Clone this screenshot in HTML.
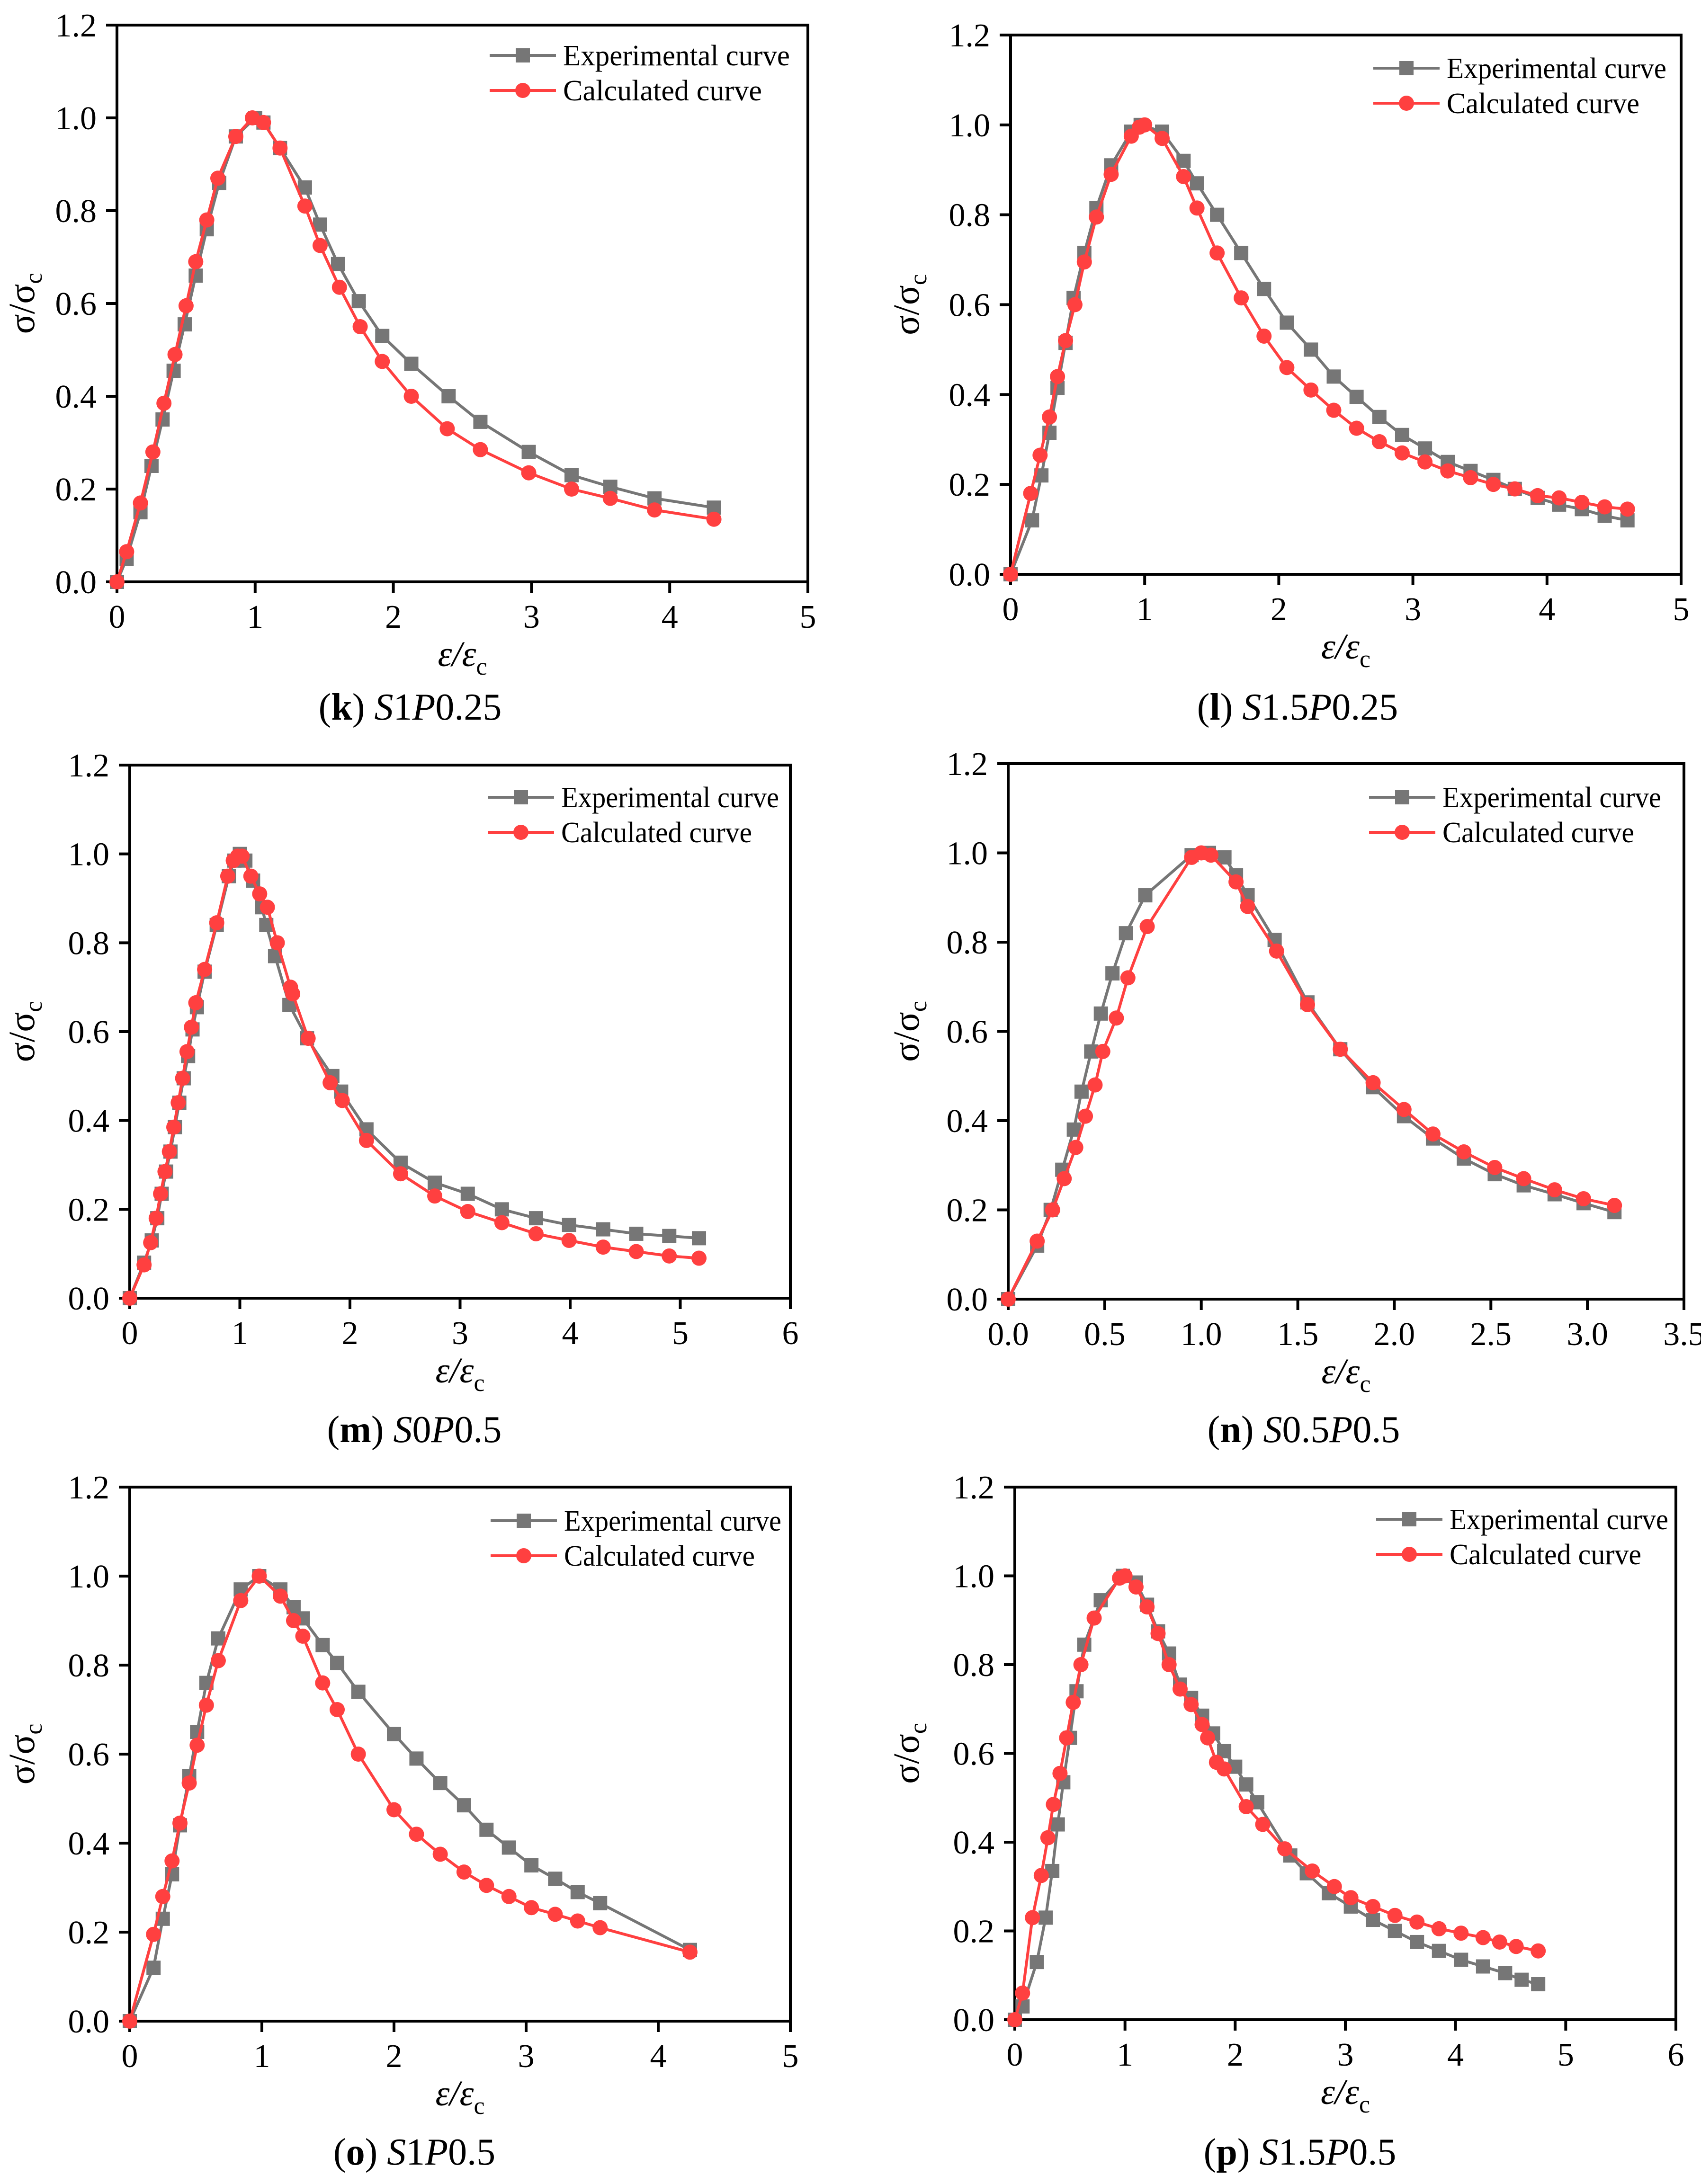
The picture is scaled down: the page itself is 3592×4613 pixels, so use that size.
<!DOCTYPE html>
<html><head><meta charset="utf-8"><style>
html,body{margin:0;padding:0;background:#fff;}
svg{display:block;}
text{font-family:"Liberation Serif",serif;}
</style></head><body>
<svg id="fig" width="3592" height="4613" viewBox="0 0 3592 4613" xmlns="http://www.w3.org/2000/svg"></svg>
<script>
// ---- data ----
const kExpX=[0,0.07,0.17,0.25,0.33,0.41,0.49,0.57,0.65,0.74,0.86,1,1.06,1.18,1.36,1.47,1.6,1.75,1.92,2.13,2.4,2.63,2.98,3.29,3.57,3.89,4.32];
const kExpY=[0,0.05,0.15,0.25,0.35,0.455,0.555,0.66,0.76,0.86,0.96,1.0,0.99,0.935,0.85,0.77,0.685,0.605,0.53,0.47,0.40,0.345,0.28,0.23,0.205,0.18,0.16];
const kCalX=[0,0.07,0.17,0.26,0.34,0.42,0.5,0.57,0.65,0.73,0.86,0.98,1.06,1.18,1.36,1.47,1.61,1.76,1.92,2.13,2.39,2.63,2.98,3.29,3.57,3.89,4.32];
const kCalY=[0,0.065,0.17,0.28,0.385,0.49,0.595,0.69,0.78,0.87,0.96,1.0,0.99,0.935,0.81,0.725,0.635,0.55,0.475,0.40,0.33,0.285,0.235,0.20,0.18,0.155,0.135];

const lExpX=[0,0.16,0.23,0.29,0.35,0.41,0.47,0.55,0.64,0.75,0.9,0.97,1.13,1.29,1.39,1.54,1.72,1.89,2.06,2.24,2.41,2.58,2.75,2.92,3.09,3.26,3.43,3.6,3.76,3.93,4.09,4.26,4.43,4.6];
const lExpY=[0,0.12,0.22,0.315,0.415,0.515,0.615,0.715,0.815,0.91,0.985,1.0,0.985,0.92,0.87,0.80,0.715,0.635,0.56,0.50,0.44,0.395,0.35,0.31,0.28,0.25,0.23,0.21,0.19,0.17,0.155,0.145,0.13,0.12];
const lCalX=[0,0.15,0.22,0.29,0.35,0.41,0.48,0.55,0.64,0.75,0.9,0.96,1.0,1.13,1.29,1.39,1.54,1.72,1.89,2.06,2.24,2.41,2.58,2.75,2.92,3.09,3.26,3.43,3.6,3.76,3.93,4.09,4.26,4.43,4.6];
const lCalY=[0,0.18,0.265,0.35,0.44,0.52,0.60,0.695,0.795,0.89,0.975,0.995,1.0,0.97,0.885,0.815,0.715,0.615,0.53,0.46,0.41,0.365,0.325,0.295,0.27,0.25,0.23,0.215,0.20,0.19,0.175,0.17,0.16,0.15,0.145];

const mExpX=[0,0.13,0.2,0.25,0.29,0.33,0.37,0.41,0.45,0.49,0.53,0.57,0.61,0.68,0.79,0.9,0.95,1.0,1.05,1.12,1.2,1.24,1.32,1.45,1.61,1.84,1.92,2.15,2.46,2.77,3.07,3.38,3.69,3.99,4.3,4.6,4.9,5.17];
const mExpY=[0,0.08,0.13,0.18,0.235,0.285,0.33,0.385,0.44,0.495,0.545,0.605,0.655,0.735,0.84,0.95,0.985,1.0,0.985,0.94,0.88,0.84,0.77,0.66,0.585,0.50,0.465,0.38,0.305,0.26,0.235,0.20,0.18,0.165,0.155,0.145,0.14,0.135];
const mCalX=[0,0.13,0.19,0.24,0.28,0.32,0.36,0.4,0.44,0.48,0.52,0.56,0.6,0.68,0.79,0.89,0.94,0.98,1.02,1.1,1.18,1.25,1.34,1.46,1.48,1.62,1.82,1.93,2.15,2.46,2.77,3.07,3.38,3.69,3.99,4.3,4.6,4.9,5.17];
const mCalY=[0,0.075,0.125,0.18,0.235,0.285,0.33,0.385,0.44,0.495,0.555,0.61,0.665,0.74,0.845,0.95,0.985,0.995,0.995,0.95,0.91,0.88,0.80,0.70,0.685,0.585,0.485,0.445,0.355,0.28,0.23,0.195,0.17,0.145,0.13,0.115,0.105,0.095,0.09];

const nExpX=[0,0.15,0.22,0.28,0.34,0.38,0.43,0.48,0.54,0.61,0.71,0.95,1.04,1.12,1.18,1.24,1.38,1.55,1.72,1.89,2.05,2.2,2.36,2.52,2.67,2.83,2.98,3.14];
const nExpY=[0,0.12,0.2,0.29,0.38,0.465,0.555,0.64,0.73,0.82,0.905,0.995,1.0,0.99,0.95,0.905,0.805,0.665,0.56,0.475,0.41,0.36,0.315,0.28,0.255,0.235,0.215,0.195];
const nCalX=[0,0.15,0.23,0.29,0.35,0.4,0.45,0.49,0.56,0.62,0.72,0.95,1.0,1.05,1.18,1.24,1.39,1.55,1.72,1.89,2.05,2.2,2.36,2.52,2.67,2.83,2.98,3.14];
const nCalY=[0,0.13,0.20,0.27,0.34,0.41,0.48,0.555,0.63,0.72,0.835,0.99,1.0,0.995,0.935,0.88,0.78,0.66,0.56,0.485,0.425,0.37,0.33,0.295,0.27,0.245,0.225,0.21];

const oExpX=[0,0.18,0.25,0.32,0.38,0.45,0.51,0.58,0.67,0.84,0.98,1.14,1.24,1.31,1.46,1.57,1.73,2.0,2.17,2.35,2.53,2.7,2.87,3.04,3.22,3.39,3.56,4.24];
const oExpY=[0,0.12,0.23,0.33,0.44,0.55,0.65,0.76,0.86,0.97,1.0,0.97,0.93,0.905,0.845,0.805,0.74,0.645,0.59,0.535,0.485,0.43,0.39,0.35,0.32,0.29,0.265,0.16];
const oCalX=[0,0.18,0.25,0.32,0.38,0.45,0.51,0.58,0.67,0.84,0.98,1.14,1.24,1.31,1.46,1.57,1.73,2.0,2.17,2.35,2.53,2.7,2.87,3.04,3.22,3.39,3.56,4.24];
const oCalY=[0,0.195,0.28,0.36,0.445,0.535,0.62,0.71,0.81,0.945,1.0,0.955,0.90,0.865,0.76,0.70,0.60,0.475,0.42,0.375,0.335,0.305,0.28,0.255,0.24,0.225,0.21,0.155];

const pExpX=[0,0.07,0.2,0.28,0.34,0.39,0.44,0.5,0.56,0.63,0.78,0.98,1.1,1.2,1.3,1.4,1.5,1.6,1.7,1.8,1.9,2.0,2.1,2.2,2.5,2.65,2.85,3.05,3.25,3.45,3.65,3.85,4.05,4.25,4.45,4.6,4.75];
const pExpY=[0,0.03,0.13,0.23,0.335,0.44,0.535,0.635,0.74,0.845,0.945,1.0,0.985,0.935,0.875,0.825,0.755,0.725,0.685,0.645,0.605,0.57,0.53,0.49,0.37,0.33,0.285,0.255,0.225,0.2,0.175,0.155,0.135,0.12,0.105,0.09,0.08];
const pCalX=[0,0.07,0.16,0.24,0.3,0.35,0.41,0.47,0.53,0.6,0.72,0.95,1.0,1.1,1.2,1.3,1.4,1.5,1.6,1.7,1.75,1.83,1.9,2.1,2.25,2.45,2.7,2.9,3.05,3.25,3.45,3.65,3.85,4.05,4.25,4.4,4.55,4.75];
const pCalY=[0,0.06,0.23,0.325,0.41,0.485,0.555,0.635,0.715,0.80,0.905,0.995,1.0,0.975,0.93,0.87,0.80,0.745,0.71,0.665,0.635,0.58,0.565,0.48,0.44,0.385,0.335,0.30,0.275,0.255,0.235,0.22,0.205,0.195,0.185,0.175,0.165,0.155];

const yTicks=[0,0.2,0.4,0.6,0.8,1.0,1.2];
const yTickLabels=["0.0","0.2","0.4","0.6","0.8","1.0","1.2"];
const xTicks5=[0,1,2,3,4,5];
const xTicks6=[0,1,2,3,4,5,6];
const xTicksN=[0,0.5,1,1.5,2,2.5,3,3.5];
const xTickLabels5=["0","1","2","3","4","5"];
const xTickLabels6=["0","1","2","3","4","5","6"];
const xTickLabelsN=["0.0","0.5","1.0","1.5","2.0","2.5","3.0","3.5"];

const NS="http://www.w3.org/2000/svg";
const svg=document.getElementById('fig');
function mk(tag,attrs,parent){const e=document.createElementNS(NS,tag);for(const k in attrs)e.setAttribute(k,attrs[k]);(parent||svg).appendChild(e);return e;}
const GRAY="#767676",RED="#ff4040";

const panels=[
 {id:'k',L:247,R:1706,T:53,B:1229,xmax:5,xt:xTicks5,xl:xTickLabels5,ex:kExpX,ey:kExpY,cx:kCalX,cy:kCalY,legLine:1034,legY:117,lw:479,ytx:72,capX:866,capY:1520,letter:'k',cap:['S','1','P','0.25']},
 {id:'l',L:2134,R:3550,T:74,B:1213,xmax:5,xt:xTicks5,xl:xTickLabels5,ex:lExpX,ey:lExpY,cx:lCalX,cy:lCalY,legLine:2900,legY:144,lw:464,ytx:1940,capX:2740,capY:1520,letter:'l',cap:['S','1.5','P','0.25']},
 {id:'m',L:274,R:1669,T:1616,B:2742,xmax:6,xt:xTicks6,xl:xTickLabels6,ex:mExpX,ey:mExpY,cx:mCalX,cy:mCalY,legLine:1030,legY:1684,lw:460,ytx:72,capX:875,capY:3046,letter:'m',cap:['S','0','P','0.5']},
 {id:'n',L:2129,R:3556,T:1613,B:2744,xmax:3.5,xt:xTicksN,xl:xTickLabelsN,ex:nExpX,ey:nExpY,cx:nCalX,cy:nCalY,legLine:2891,legY:1684,lw:462,ytx:1940,capX:2753,capY:3046,letter:'n',cap:['S','0.5','P','0.5']},
 {id:'o',L:274,R:1669,T:3141,B:4269,xmax:5,xt:xTicks5,xl:xTickLabels5,ex:oExpX,ey:oExpY,cx:oCalX,cy:oCalY,legLine:1036,legY:3212,lw:459,ytx:72,capX:875,capY:4572,letter:'o',cap:['S','1','P','0.5']},
 {id:'p',L:2143,R:3539,T:3141,B:4266,xmax:6,xt:xTicks6,xl:xTickLabels6,ex:pExpX,ey:pExpY,cx:pCalX,cy:pCalY,legLine:2906,legY:3209,lw:462,ytx:1940,capX:2745,capY:4572,letter:'p',cap:['S','1.5','P','0.5']}
];

panels.forEach(p=>{
 const g=mk('g',{});
 
 
 const sx=v=>p.L+(v/p.xmax)*(p.R-p.L);
 const sy=v=>p.B-(v/1.2)*(p.B-p.T);
 p.xt.forEach((t,i)=>{
  const x=sx(t);
  const tk=mk('line',{x1:x,x2:x,y1:p.B,y2:p.B+23,stroke:'#000','stroke-width':6},g);
  
  
  const tl=mk('text',{x:x,y:p.B+97,'font-size':70,'text-anchor':'middle'},g);
  tl.textContent=p.xl[i];
  
  
 });
 yTicks.forEach((t,i)=>{
  const y=sy(t);
  const tk=mk('line',{x1:p.L-23,x2:p.L,y1:y,y2:y,stroke:'#000','stroke-width':6},g);
  
  
  const tl=mk('text',{x:p.L-43,y:y+24,'font-size':70,'text-anchor':'end'},g);
  tl.textContent=yTickLabels[i];
  
  
 });
 const fr=mk('rect',{x:p.L,y:p.T,width:p.R-p.L,height:p.B-p.T,fill:'none',stroke:'#000','stroke-width':6},g);
 
 
 const xt=mk('text',{x:(p.L+p.R)/2,y:p.B+178,'font-size':76,'text-anchor':'middle','font-style':'italic'},g);
 xt.innerHTML='ε/ε<tspan font-style="normal" font-size="52" dy="18">c</tspan>';
 
 
 const cyM=(p.T+p.B)/2;
 const yt=mk('text',{x:0,y:0,'font-size':78,'text-anchor':'middle','font-family':'"DejaVu Sans",sans-serif',transform:`translate(${p.ytx},${cyM}) rotate(-90)`},g);
 yt.innerHTML='σ/σ<tspan font-size="52" dy="16">c</tspan>';
 
 
 function series(xs,ys,color,shape,name){
  const sg=mk('g',{},g);
  
  
  const pts=xs.map((x,i)=>sx(x).toFixed(1)+','+sy(ys[i]).toFixed(1)).join(' ');
  const pl=mk('polyline',{points:pts,fill:'none',stroke:color,'stroke-width':6,'stroke-linejoin':'round'},sg);
  
  
  xs.forEach((x,i)=>{
   let m;
   if(shape==='sq') m=mk('rect',{x:sx(x)-15,y:sy(ys[i])-15,width:30,height:30,fill:color},sg);
   else m=mk('circle',{cx:sx(x),cy:sy(ys[i]),r:16,fill:color},sg);
   
   
  });
 }
 series(p.ex,p.ey,GRAY,'sq','experimental-series');
 series(p.cx,p.cy,RED,'ci','calculated-series');
 const lg=mk('g',{},g);
 
 
 [[GRAY,'sq','Experimental curve',p.lw],[RED,'ci','Calculated curve',Math.round(p.lw*0.877)]].forEach((e,i)=>{
  const y=p.legY+i*74;
  const eg=mk('g',{},lg);
  
  
  mk('line',{x1:p.legLine,x2:p.legLine+140,y1:y,y2:y,stroke:e[0],'stroke-width':6},eg);
  if(e[1]==='sq') mk('rect',{x:p.legLine+55,y:y-15,width:30,height:30,fill:e[0]},eg);
  else mk('circle',{cx:p.legLine+70,cy:y,r:16,fill:e[0]},eg);
  const t=mk('text',{x:p.legLine+155,y:y+21,'font-size':62,textLength:e[3],lengthAdjust:'spacingAndGlyphs'},eg);
  t.textContent=e[2];
 });
 const cap=mk('text',{x:p.capX,y:p.capY,'font-size':80,'text-anchor':'middle'},g);
 cap.innerHTML=`(<tspan font-weight="bold">${p.letter}</tspan>) <tspan font-style="italic">${p.cap[0]}</tspan>${p.cap[1]}<tspan font-style="italic">${p.cap[2]}</tspan>${p.cap[3]}`;
 
 
});
</script>
</body></html>
